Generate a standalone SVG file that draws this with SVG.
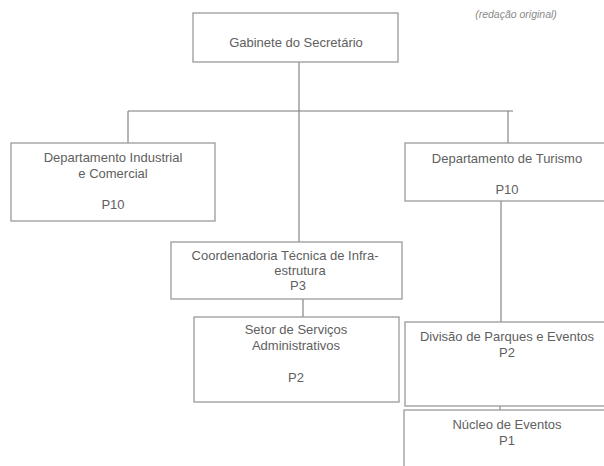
<svg xmlns="http://www.w3.org/2000/svg" width="604" height="466" viewBox="0 0 604 466">
<style>
.box{fill:#fff;stroke:#9a9a9a;stroke-width:1.3}
.ln{fill:none;stroke:#7a7a7a;stroke-width:1.1}
text{font-family:"Liberation Sans",Arial,sans-serif;font-size:13px;fill:#606060;text-anchor:middle}
.note{font-size:10.5px;font-style:italic;fill:#8a8a8a}
</style>
<rect width="604" height="466" fill="#fff"/>
<text class="note" x="516" y="18">(redação original)</text>
<g id="connectors">
<path class="ln" d="M299 62V242"/>
<path class="ln" d="M128 111H513"/>
<path class="ln" d="M128 111V143"/>
<path class="ln" d="M508 111V143"/>
<path class="ln" d="M303 299V317"/>
<path class="ln" d="M501 201V323"/>
<path class="ln" d="M500 403V411"/>
</g>
<g id="gabinete">
<rect class="box" x="193" y="13" width="205" height="49"/>
<text x="296" y="47">Gabinete do Secretário</text>
</g>
<g id="dept-industrial">
<rect class="box" x="11" y="143" width="204" height="78"/>
<text x="113" y="162">Departamento Industrial</text>
<text x="113" y="178">e Comercial</text>
<text x="113" y="209">P10</text>
</g>
<g id="dept-turismo">
<rect class="box" x="405" y="143" width="210" height="58"/>
<text x="507" y="163">Departamento de Turismo</text>
<text x="507" y="194">P10</text>
</g>
<g id="coordenadoria">
<rect class="box" x="171" y="242" width="231" height="57"/>
<text x="285" y="260">Coordenadoria Técnica de Infra-</text>
<text x="300" y="275">estrutura</text>
<text x="298" y="290">P3</text>
</g>
<g id="setor">
<rect class="box" x="194" y="317" width="205" height="85"/>
<text x="296" y="334">Setor de Serviços</text>
<text x="296" y="350">Administrativos</text>
<text x="296" y="382">P2</text>
</g>
<g id="divisao">
<rect class="box" x="405" y="322" width="210" height="84"/>
<text x="507" y="341">Divisão de Parques e Eventos</text>
<text x="507" y="357">P2</text>
</g>
<g id="nucleo">
<rect class="box" x="404" y="410" width="211" height="70"/>
<text x="507" y="429">Núcleo de Eventos</text>
<text x="507" y="445">P1</text>
</g>
</svg>
